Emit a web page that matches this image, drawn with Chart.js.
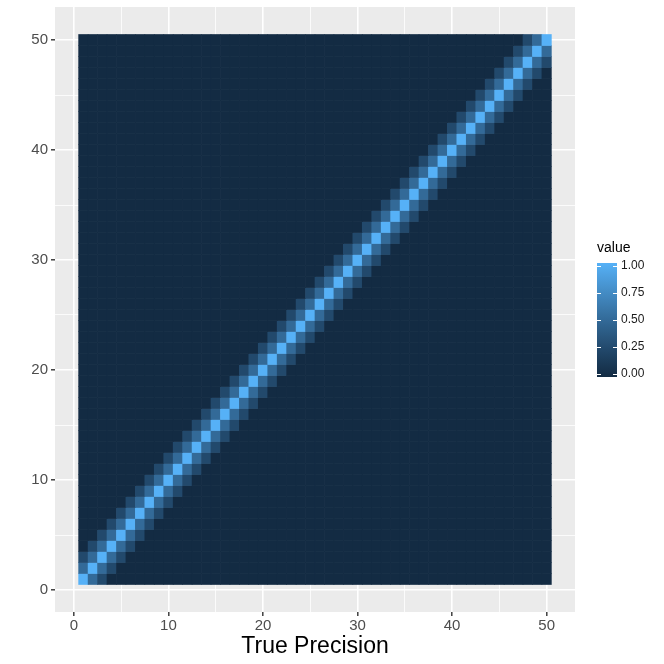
<!DOCTYPE html>
<html><head><meta charset="utf-8">
<script src="https://cdn.jsdelivr.net/npm/chart.js@4.4.1/dist/chart.umd.min.js"></script>
<style>html,body{margin:0;padding:0;background:#fff}#wrap{width:664px;height:664px}</style>
</head><body><div id="wrap"><canvas id="c" width="664" height="664"></canvas></div>
<script>
// ---- data ----
const xCategories = [1,2,3,4,5,6,7,8,9,10,11,12,13,14,15,16,17,18,19,20,21,22,23,24,25,26,27,28,29,30,31,32,33,34,35,36,37,38,39,40,41,42,43,44,45,46,47,48,49,50];
const yCategories = [1,2,3,4,5,6,7,8,9,10,11,12,13,14,15,16,17,18,19,20,21,22,23,24,25,26,27,28,29,30,31,32,33,34,35,36,37,38,39,40,41,42,43,44,45,46,47,48,49,50];
const bandOffsets = [-2, -1, 0, 1, 2];
const bandValues  = [0.25, 0.5, 1.0, 0.5, 0.25];
const offBandValue = 0;
const xTickLabels = [0, 10, 20, 30, 40, 50];
const yTickLabels = [0, 10, 20, 30, 40, 50];
const minorBreaks = [5, 15, 25, 35, 45];
const legendBreaks = [0, 0.25, 0.5, 0.75, 1];
const legendLabels = ['0.00', '0.25', '0.50', '0.75', '1.00'];
const xTitle = 'True Precision';
const legendTitle = 'value';

// ---- colour scale (Lab interpolation like ggplot) ----
const LOW = '#132B43', HIGH = '#56B1F7';
function hex2rgb(h){return [1,3,5].map(i=>parseInt(h.substr(i,2),16));}
function lin(c){c/=255;return c<=0.04045?c/12.92:Math.pow((c+0.055)/1.055,2.4);}
function unlin(c){c=c<=0.0031308?12.92*c:1.055*Math.pow(c,1/2.4)-0.055;return Math.max(0,Math.min(255,Math.round(c*255)));}
const Wn=[0.95047,1,1.08883];
function f(t){return t>0.008856?Math.cbrt(t):7.787*t+16/116;}
function finv(t){return t>0.206893?t*t*t:(t-16/116)/7.787;}
function rgb2lab(rgb){const [r,g,b]=rgb.map(lin);
  const X=(0.4124*r+0.3576*g+0.1805*b)/Wn[0],Y=(0.2126*r+0.7152*g+0.0722*b)/Wn[1],Z=(0.0193*r+0.1192*g+0.9505*b)/Wn[2];
  return [116*f(Y)-16,500*(f(X)-f(Y)),200*(f(Y)-f(Z))];}
function lab2rgb(lab){const fy=(lab[0]+16)/116,fx=fy+lab[1]/500,fz=fy-lab[2]/200;
  const X=finv(fx)*Wn[0],Y=finv(fy)*Wn[1],Z=finv(fz)*Wn[2];
  const r=3.2406*X-1.5372*Y-0.4986*Z,g=-0.9689*X+1.8758*Y+0.0415*Z,b=0.0557*X-0.2040*Y+1.0570*Z;
  return [unlin(r),unlin(g),unlin(b)];}
const labLo=rgb2lab(hex2rgb(LOW)), labHi=rgb2lab(hex2rgb(HIGH));
function colorFor(v){const l=labLo.map((a,i)=>a+(labHi[i]-a)*v);const c=lab2rgb(l);return `rgb(${c[0]},${c[1]},${c[2]})`;}

// ---- build tile table ----
const cells = [];
for (const y of yCategories) for (const x of xCategories) {
  const k = bandOffsets.indexOf(x - y);
  cells.push({x: x, y: [y - 0.5, y + 0.5], v: k >= 0 ? bandValues[k] : offBandValue});
}

const FONT = "'Liberation Sans', Arial, sans-serif";
const isMajor = v => xTickLabels.includes(v);

const panelBg = {
  id: 'panelBg',
  beforeDraw(chart){const {ctx, chartArea:a}=chart;ctx.save();ctx.fillStyle='#EBEBEB';ctx.fillRect(a.left,a.top,a.right-a.left,a.bottom-a.top);ctx.restore();}
};
const colorbar = {
  id: 'colorbar',
  afterDraw(chart){
    const ctx=chart.ctx;const bx=597,bw=20,bt=263,bb=377;
    ctx.save();
    const g=ctx.createLinearGradient(0,bb,0,bt);
    for(let i=0;i<=20;i++){g.addColorStop(i/20,colorFor(i/20));}
    ctx.fillStyle=g;ctx.fillRect(bx,bt,bw,bb-bt);
    const inset=(bb-bt)*0.025;
    const yOf=v=>bb-inset-v*(bb-bt-2*inset);
    ctx.strokeStyle='#FFFFFF';ctx.lineWidth=1;
    ctx.fillStyle='#1A1A1A';ctx.font='12px '+FONT;ctx.textBaseline='middle';ctx.textAlign='left';
    legendBreaks.forEach((v,i)=>{const y=Math.round(yOf(v))+0.5;
      ctx.beginPath();ctx.moveTo(bx,y);ctx.lineTo(bx+4,y);ctx.moveTo(bx+bw-4,y);ctx.lineTo(bx+bw,y);ctx.stroke();
      ctx.fillText(legendLabels[i],bx+bw+4,yOf(v));});
    ctx.fillStyle='#000';ctx.font='14px '+FONT;ctx.fillText(legendTitle,bx,248);
    ctx.restore();
  }
};

const gridOpts = {
  color: '#FFFFFF',
  offset: false,
  lineWidth: c => (c.tick && isMajor(c.tick.value)) ? 1.6 : 0.8,
  tickColor: c => (c.tick && isMajor(c.tick.value)) ? '#333333' : 'rgba(0,0,0,0)',
  tickWidth: 1.4,
  tickLength: 4,
  drawTicks: true
};
const allBreaks = [0,5,10,15,20,25,30,35,40,45,50];

new Chart(document.getElementById('c'), {
  type: 'bar',
  data: { datasets: [{
    data: cells,
    backgroundColor: c => colorFor(c.raw ? c.raw.v : 0),
    borderWidth: 0,
    barPercentage: 1,
    categoryPercentage: 1
  }]},
  options: {
    responsive: false, animation: false, devicePixelRatio: 1,
    layout: { padding: { left: 0, right: 89, top: 7, bottom: 0 } },
    plugins: { legend: { display: false }, tooltip: { enabled: false } },
    scales: {
      x: {
        type: 'linear', min: -2, max: 53, offset: false,
        afterBuildTicks: s => { s.ticks = allBreaks.map(v => ({value: v})); },
        afterFit: s => { s.height = 52; s.paddingLeft = 0; s.paddingRight = 0; },
        grid: gridOpts,
        border: { display: false },
        ticks: { autoSkip: false, maxRotation: 0, padding: 1, color: '#4D4D4D', font: { family: FONT, size: 15 },
                 callback: v => isMajor(v) ? String(v) : '' },
        title: { display: true, text: xTitle, color: '#000', font: { family: FONT, size: 23 }, padding: { top: 0, bottom: 4 } }
      },
      y: {
        type: 'linear', min: -2, max: 53,
        afterBuildTicks: s => { s.ticks = allBreaks.map(v => ({value: v})); },
        afterFit: s => { s.width = 55; s.paddingTop = 0; s.paddingBottom = 0; },
        grid: gridOpts,
        border: { display: false },
        ticks: { autoSkip: false, padding: 3, color: '#4D4D4D', font: { family: FONT, size: 15 },
                 callback: v => yTickLabels.includes(v) ? String(v) : '' }
      }
    }
  },
  plugins: [panelBg, colorbar]
});
</script></body></html>
